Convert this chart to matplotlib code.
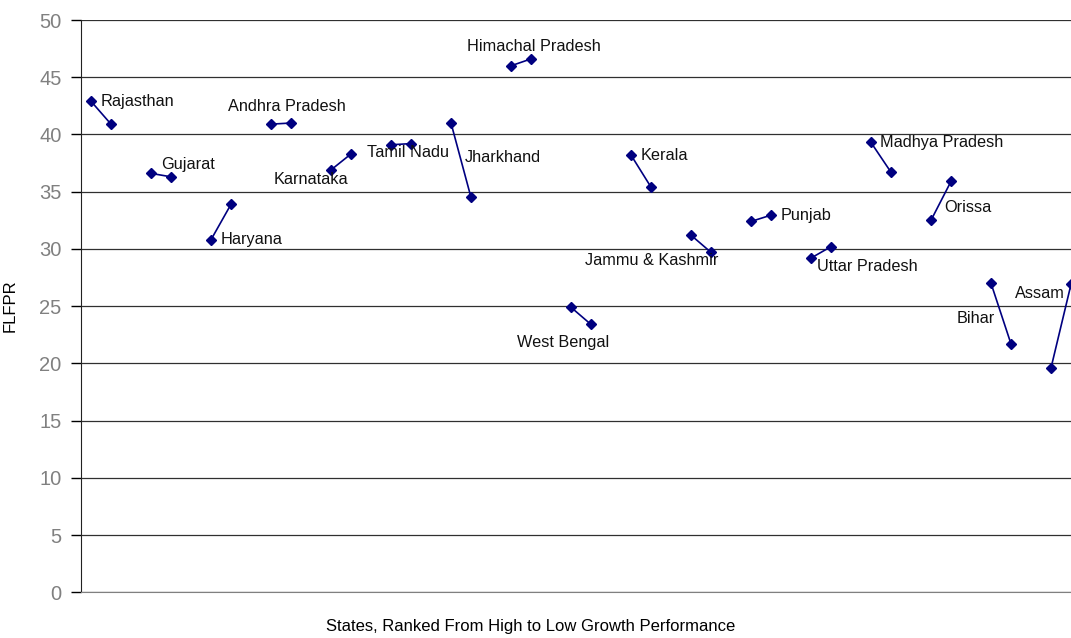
import numpy as np
import matplotlib
matplotlib.use('Agg')
import matplotlib.pyplot as plt

plt.rcParams['font.family'] = ['Liberation Sans', 'DejaVu Sans']

# States ranked from high to low growth performance
states = ['Rajasthan', 'Gujarat', 'Haryana', 'Andhra Pradesh', 'Karnataka',
          'Tamil Nadu', 'Jharkhand', 'Himachal Pradesh', 'West Bengal', 'Kerala',
          'Jammu & Kashmir', 'Punjab', 'Uttar Pradesh', 'Madhya Pradesh',
          'Orissa', 'Bihar', 'Assam']
flfpr_first = [42.9, 36.6, 30.8, 40.9, 36.9, 39.1, 41.0, 46.0, 24.9, 38.2,
               31.2, 32.4, 29.2, 39.3, 32.5, 27.0, 19.6]
flfpr_second = [40.9, 36.3, 33.9, 41.0, 38.3, 39.2, 34.5, 46.6, 23.4, 35.4,
                29.7, 32.95, 30.2, 36.7, 35.9, 21.7, 26.9]

# label anchor positions (slot, value) for the state names
label_pos = [(0.5, 42.9), (3.5, 37.4), (6.5, 30.8), (6.85, 42.4), (9.15, 36.1),
             (13.8, 38.4), (18.7, 38.0), (18.8, 47.7), (21.3, 21.8), (27.5, 38.2),
             (24.7, 29.0), (34.5, 32.95), (36.3, 28.5), (39.45, 39.3),
             (42.65, 33.6), (43.3, 23.9), (46.2, 26.1)]

fig = plt.figure(figsize=(10.71, 6.38), dpi=100)
ax = fig.add_axes([81 / 1071, (638 - 592.3) / 638, 1 - 81 / 1071, (592.3 - 20) / 638])

navy = '#000080'
for i, name in enumerate(states):
    xs = [3 * i, 3 * i + 1]
    ax.plot(xs, [flfpr_first[i], flfpr_second[i]], color=navy, lw=1.2,
            marker='D', markersize=5, markerfacecolor=navy, markeredgecolor=navy)
    lx, ly = label_pos[i]
    ax.text(lx, ly, name, ha='left', va='center', fontsize=11.7, color='#111111')

ax.set_xlim(-0.5, 49)
ax.set_ylim(0, 50)
ax.set_yticks(np.arange(0, 51, 5))
ax.set_xticks([])
ax.yaxis.grid(True, color='#303030', lw=0.9)
ax.set_axisbelow(True)
ax.tick_params(axis='y', labelsize=14.5, labelcolor='#808080', length=7,
               width=1, color='black', pad=7)
for s in ['top', 'right']:
    ax.spines[s].set_visible(False)
ax.spines['left'].set_color('#222222')
ax.spines['bottom'].set_color('#808080')

ax.set_ylabel('FLFPR', fontsize=12)
ax.yaxis.set_label_coords((18 - 81) / 990, 0.5)
fig.text(531 / 1071, 1 - 627 / 638, 'States, Ranked From High to Low Growth Performance',
         ha='center', va='center', fontsize=12)

fig.savefig('out.png', dpi=100)
